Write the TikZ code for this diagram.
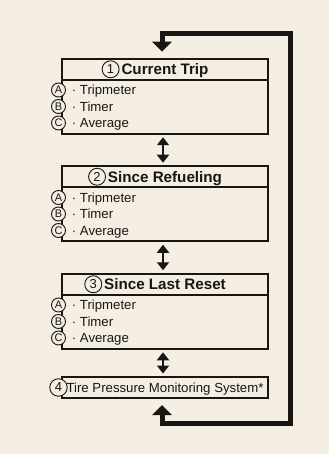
\documentclass[tikz,border=0pt]{standalone}
\usepackage{fontspec}
\setmainfont{Liberation Sans}
\usetikzlibrary{arrows.meta, positioning}
\definecolor{paper}{HTML}{F4EEE3}
\definecolor{ink}{HTML}{1A1614}

\begin{document}
\begin{tikzpicture}[x=1pt, y=-1pt, line width=1.9pt,
  headbox/.style={draw=ink, minimum width=206pt, minimum height=21pt, inner sep=0pt, outer sep=0pt},
  listbox/.style={draw=ink, minimum width=206pt, minimum height=54pt, inner sep=0pt, outer sep=0pt},
  headtext/.style={font=\fontsize{15.2}{15}\selectfont\bfseries, text=ink, inner sep=0pt, text height=10.9pt, text depth=0pt},
  itemtext/.style={font=\fontsize{13.2}{13}\selectfont, text=ink, inner sep=0pt, text height=9.4pt, text depth=0pt},
  numring/.style={circle, draw=ink, line width=0.9pt, fill=paper, minimum size=17pt, inner sep=0pt,
    font=\fontsize{13}{13}\selectfont, text=ink},
  letring/.style={circle, draw=ink, line width=0.9pt, fill=paper, minimum size=14pt, inner sep=0pt,
    font=\fontsize{11}{11}\selectfont, text=ink},
  toggle/.style={ink, line width=2.2pt, {Triangle[length=8pt,width=12pt]}-{Triangle[length=8pt,width=12pt]},
    shorten <=3.5pt, shorten >=3.5pt},
  loopback/.style={ink, line width=5pt, {Triangle[length=10pt,width=19pt]}-{Triangle[length=10pt,width=19pt]},
    shorten <=7pt, shorten >=7pt}]

% Background
\fill[paper] (0,0) rectangle (329,454);

% Screens 1-3
\foreach \n/\top/\name in {1/59/Current Trip, 2/166.5/Since Refueling, 3/274/Since Last Reset} {
  \node[headbox] (head\n) at (165,\top+10.25) {};
  \node[listbox, below=0pt of head\n] (list\n) {};
  \node[headtext] (name\n) at (head\n) {\name};
  \node[numring, left=1pt of name\n] (num\n) {\n};
  \foreach \l/\item [count=\r] in {A/Tripmeter, B/Timer, C/Average} {
    \node[letring] (let\n\l) at (58.5,\top+31+\r*16.5-16.5) {\l};
    \node[itemtext, right=5pt of let\n\l] (item\n\l) {· \item};
  }
}

% Screen 4
\node[headbox, itemtext, minimum width=206pt, minimum height=21pt] (tpms) at (165,387.5)
  {Tire Pressure Monitoring System*};
\node[numring, minimum size=17.5pt] (num4) at (58.5,387.5) {4};

% Switching between screens
\draw[toggle] ([xshift=-2pt]list1.south) -- ([xshift=-2pt]head2.north);
\draw[toggle] ([xshift=-2pt]list2.south) -- ([xshift=-2pt]head3.north);
\draw[toggle] ([xshift=-2pt]list3.south) -- ([xshift=-2pt]tpms.north);

% Back to the first screen
\coordinate (cornerBR) at (290,423);
\coordinate (cornerTR) at (290,33.5);
\draw[loopback] ([xshift=-3pt]tpms.south) |- (cornerBR) -- (cornerTR) -| ([xshift=-3pt]head1.north);

\end{tikzpicture}
\end{document}
